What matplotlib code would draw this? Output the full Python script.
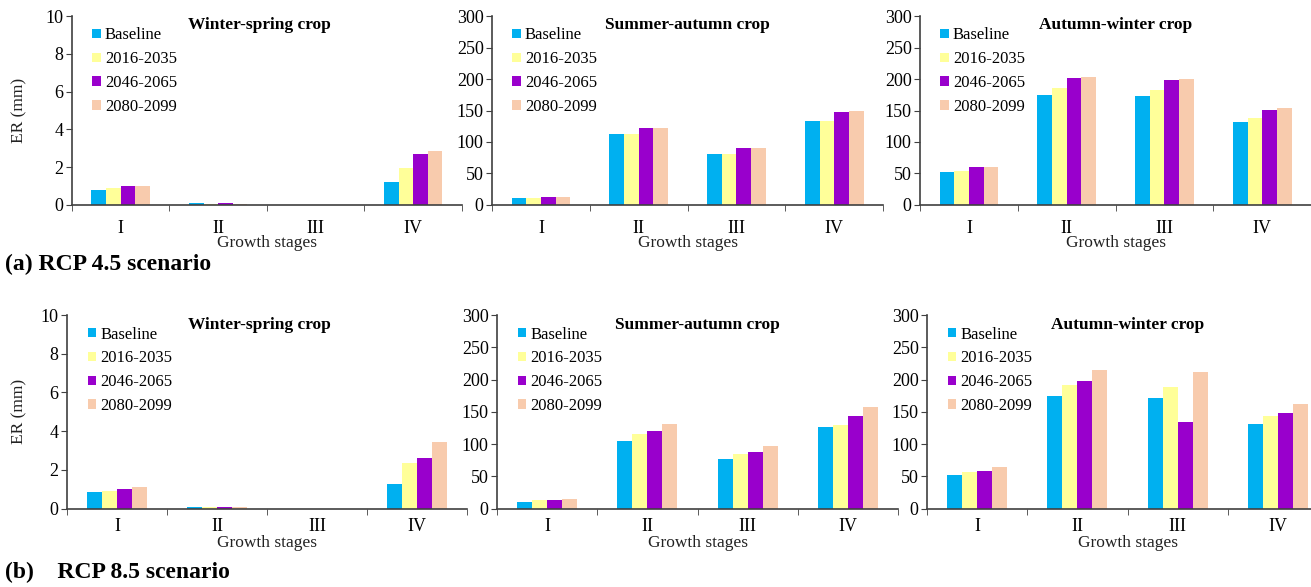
import matplotlib.pyplot as plt
import numpy as np

plt.rcParams['font.family'] = ['Liberation Serif', 'DejaVu Serif']

stages = ['I', 'II', 'III', 'IV']
periods = ['Baseline', '2016-2035', '2046-2065', '2080-2099']
colors = ['#00B0F0', '#FFFF99', '#9900CC', '#F8CBAD']
crops = ['Winter-spring crop', 'Summer-autumn crop', 'Autumn-winter crop']

# ER (mm) per growth stage, one row per period: RCP 4.5
rcp45_ws = [[0.8, 0.1, 0.0, 1.2],
            [0.9, 0.05, 0.0, 1.97],
            [1.0, 0.1, 0.0, 2.7],
            [1.0, 0.07, 0.0, 2.87]]
rcp45_sa = [[11, 112, 81.5, 134],
            [10.5, 112, 81.5, 134],
            [13, 122.5, 90, 147],
            [13, 123, 91, 149.5]]
rcp45_aw = [[52.5, 175, 172.5, 131],
            [54, 185, 182, 138],
            [60, 201, 198, 151.5],
            [61, 203, 200, 154]]

# RCP 8.5
rcp85_ws = [[0.84, 0.1, 0.0, 1.25],
            [0.92, 0.07, 0.0, 2.35],
            [1.03, 0.1, 0.0, 2.62],
            [1.13, 0.08, 0.0, 3.43]]
rcp85_sa = [[10, 105, 77, 126.5],
            [12.5, 116, 84.5, 129.5],
            [12.5, 119.5, 88, 144],
            [14.5, 130.5, 97, 158]]
rcp85_aw = [[52, 175, 171.5, 130.5],
            [56, 191.5, 188, 144],
            [58.5, 198, 134, 148],
            [64, 214.5, 211.5, 161.5]]

rows = [[rcp45_ws, rcp45_sa, rcp45_aw], [rcp85_ws, rcp85_sa, rcp85_aw]]
ymax = [10, 300, 300]
ystep = [2, 50, 50]

# axes boxes [left, bottom, width, height] in figure fraction
boxes = [[[0.0549, 0.6508, 0.2975, 0.3219],
          [0.3753, 0.6508, 0.2983, 0.3219],
          [0.7018, 0.6508, 0.2983, 0.3219]],
         [[0.0511, 0.1337, 0.3051, 0.3296],
          [0.3791, 0.1337, 0.3059, 0.3296],
          [0.7071, 0.1337, 0.3059, 0.3296]]]
ylabel_x = [-0.115, -0.1]
xtick_pad = [10.5, 6.5]
xlabel_pad = [-1, 0]

fig = plt.figure(figsize=(13.11, 5.87), dpi=100)
x = np.arange(len(stages)) + 0.5
w = 0.15
spine_c = '#404040'

for r in range(2):
    for c in range(3):
        ax = fig.add_axes(boxes[r][c])
        data = rows[r][c]
        for k, p in enumerate(periods):
            ax.bar(x + (k - 1.5) * w, data[k], w, color=colors[k], label=p,
                   zorder=2)
        ax.set_xlim(0, 4)
        ax.set_ylim(0, ymax[c])
        ax.set_yticks(np.arange(0, ymax[c] + 1, ystep[c]))
        ax.set_xticks(x)
        ax.set_xticklabels(stages)
        ax.set_xticks(np.arange(0, 5), minor=True)
        ax.tick_params(axis='x', which='major', length=0, labelsize=13,
                       pad=xtick_pad[r])
        ax.tick_params(axis='x', which='minor', length=4, direction='out',
                       color=spine_c)
        ax.tick_params(axis='y', length=4, direction='out', color=spine_c,
                       labelsize=13, pad=2)
        for s in ['top', 'right']:
            ax.spines[s].set_visible(False)
        for s in ['left', 'bottom']:
            ax.spines[s].set_color(spine_c)
            ax.spines[s].set_linewidth(1.2)
        ax.set_xlabel('Growth stages', fontsize=12.5, labelpad=xlabel_pad[r],
                      color='#222222')
        if c == 0:
            ax.set_ylabel('ER (mm)', fontsize=12.5, color='#222222')
            ax.yaxis.set_label_coords(ylabel_x[r], 0.5)
        ax.text(0.48 if c == 0 else 0.5, 0.95, crops[c], transform=ax.transAxes,
                ha='center', va='center', fontsize=12.5, fontweight='bold')
        ax.legend(loc='upper left', bbox_to_anchor=(0.052, 0.94),
                  frameon=False, fontsize=12, handlelength=0.5,
                  handleheight=0.5, handletextpad=0.25, labelspacing=0.47,
                  borderpad=0, borderaxespad=0)

fig.text(0.004, 0.549, '(a) RCP 4.5 scenario', fontsize=17,
         fontweight='bold', va='center')
fig.text(0.004, 0.025, '(b)    RCP 8.5 scenario', fontsize=17,
         fontweight='bold', va='center')

fig.savefig('out.png', dpi=100)
